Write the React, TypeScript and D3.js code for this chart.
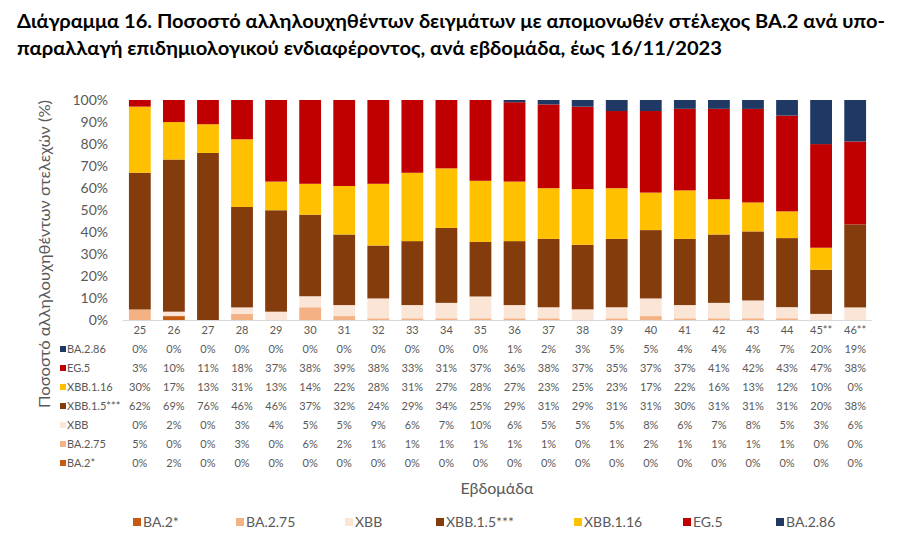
import React from "react";
import * as d3 from "d3";

const weeks = ["25","26","27","28","29","30","31","32","33","34","35","36","37","38","39","40","41","42","43","44","45**","46**"];
const seriesKeys = ["BA.2*","BA.2.75","XBB","XBB.1.5***","XBB.1.16","EG.5","BA.2.86"];
const colors = ["#C55A11","#F4B183","#FBE5D6","#843C0C","#FFC000","#C00000","#203864"];

const ba2 =    [0,2,0,0,0,0,0,0,0,0,0,0,0,0,0,0,0,0,0,0,0,0];
const ba275 =  [5,0,0,3,0,6,2,1,1,1,1,1,1,0,1,2,1,1,1,1,0,0];
const xbb =    [0,2,0,3,4,5,5,9,6,7,10,6,5,5,5,8,6,7,8,5,3,6];
const xbb15 =  [62,69,76,46,46,37,32,24,29,34,25,29,31,29,31,31,30,31,31,31,20,38];
const xbb116 = [30,17,13,31,13,14,22,28,31,27,28,27,23,25,23,17,22,16,13,12,10,0];
const eg5 =    [3,10,11,18,37,38,39,38,33,31,37,36,38,37,35,37,37,41,42,43,47,38];
const ba286 =  [0,0,0,0,0,0,0,0,0,0,0,1,2,3,5,5,4,4,4,7,20,19];

const yTicks = [0,0.1,0.2,0.3,0.4,0.5,0.6,0.7,0.8,0.9,1];

const seriesValues = [ba2, ba275, xbb, xbb15, xbb116, eg5, ba286];
const tableOrder = [6,5,4,3,2,1,0];

export default function App() {
  const rows = weeks.map((w, i) => {
    const r: any = { week: w };
    seriesKeys.forEach((k, j) => { r[k] = seriesValues[j][i]; });
    return r;
  });
  const stacked = d3.stack().keys(seriesKeys).offset(d3.stackOffsetExpand)(rows);
  const x = d3.scaleBand().domain(weeks).range([122.8, 872.2]).paddingInner(0.36).paddingOuter(0.18);
  const y = d3.scaleLinear().domain([0, 1]).range([320.5, 100]);
  const font = "Lato, 'Open Sans', sans-serif";
  const gray = "#595959";
  const rowY = (i: number) => 349 + i * 19;
  const legendX = [133, 236, 345, 436, 574, 683, 776];

  return (
    <svg width={900} height={549} style={{ position: "absolute", left: 0, top: 0, background: "#fff" }} fontFamily={font}>
      <rect width={900} height={549} fill="#fff" />
      <text x={17} y={28} fontSize={19} fontWeight="bold" fill="#000" textLength={868} lengthAdjust="spacingAndGlyphs">
        Διάγραμμα 16. Ποσοστό αλληλουχηθέντων δειγμάτων με απομονωθέν στέλεχος BA.2 ανά υπο-
      </text>
      <text x={17} y={55} fontSize={19} fontWeight="bold" fill="#000" textLength={705} lengthAdjust="spacingAndGlyphs">
        παραλλαγή επιδημιολογικού ενδιαφέροντος, ανά εβδομάδα, έως 16/11/2023
      </text>

      {yTicks.map((t) => (
        <text key={t} x={108} y={y(t)} dy="0.35em" textAnchor="end" fontSize={14} fill={gray}>
          {d3.format(".0%")(t)}
        </text>
      ))}

      {stacked.map((s, si) => (
        <g key={s.key} fill={colors[si]}>
          {s.map((d, i) => {
            const h = y(d[0]) - y(d[1]);
            if (h <= 0) return null;
            return <rect key={i} x={x(weeks[i])} y={y(d[1])} width={x.bandwidth()} height={h} />;
          })}
        </g>
      ))}

      <line x1={122.8} x2={872.2} y1={320.5} y2={320.5} stroke="#d9d9d9" strokeWidth={1} />

      {weeks.map((w) => (
        <text key={w} x={(x(w) as number) + x.bandwidth() / 2} y={334} textAnchor="middle" fontSize={11} fill={gray}>
          {w}
        </text>
      ))}

      {tableOrder.map((si, ri) => (
        <g key={seriesKeys[si]}>
          <rect x={60} y={rowY(ri) - 3} width={6} height={6} fill={colors[si]} />
          <text x={67} y={rowY(ri)} dy="0.35em" fontSize={11} fill={gray}>{seriesKeys[si]}</text>
          {seriesValues[si].map((v, i) => (
            <text key={i} x={(x(weeks[i]) as number) + x.bandwidth() / 2} y={rowY(ri)} dy="0.35em" textAnchor="middle" fontSize={11} fill={gray}>
              {v + "%"}
            </text>
          ))}
        </g>
      ))}

      <text transform="translate(50,254) rotate(-90)" textAnchor="middle" fontSize={16} fill={gray} textLength={308} lengthAdjust="spacingAndGlyphs">
        Ποσοστό αλληλουχηθέντων στελεχών (%)
      </text>

      <text x={497} y={494} textAnchor="middle" fontSize={16} fill={gray}>Εβδομάδα</text>

      {seriesKeys.map((k, i) => (
        <g key={k}>
          <rect x={legendX[i]} y={518} width={8} height={8} fill={colors[i]} />
          <text x={legendX[i] + 10} y={522} dy="0.35em" fontSize={14} fill={gray}>{k}</text>
        </g>
      ))}
    </svg>
  );
}
